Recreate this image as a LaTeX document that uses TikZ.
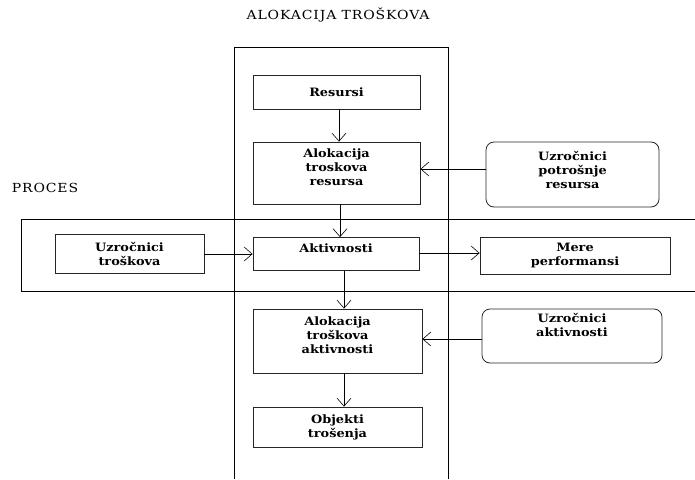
\documentclass[tikz,border=0pt]{standalone}
\usepackage{fontspec}
\setmainfont{DejaVu Serif}[FakeStretch=1.12]
\newfontfamily\spacedfont{DejaVu Serif}[FakeStretch=1.12,LetterSpace=7]
\usetikzlibrary{arrows.meta}
\begin{document}
\begin{tikzpicture}[x=1pt,y=-1pt,
  every node/.style={inner sep=0pt},
  box/.style={draw=black!85, line width=0.8pt, align=center, font=\fontsize{11.5}{14}\selectfont\bfseries},
  rbox/.style={box, rounded corners=8pt},
  frame/.style={draw=black, line width=0.8pt},
  conn/.style={draw=black, line width=0.7pt, -{Straight Barb[length=8pt,width=14pt,line width=0.6pt]}},
  lbl/.style={font=\spacedfont\fontsize{12.5}{14}\selectfont}
  ]
\useasboundingbox (0,0) rectangle (695,479);
% frames
\draw[frame] (234,479) -- (234,47) -- (448,47) -- (448,479);
\draw[frame] (695,219) -- (21,219) -- (21,291) -- (695,291);
\node[lbl] (title) at (338,15) {ALOKACIJA TROŠKOVA};
\node[lbl] (proces) at (45,188) {PROCES};
% boxes
\node[box, minimum width=167, minimum height=34] (resursi) at (336.5,92) {Resursi};
\node[box, minimum width=167, minimum height=62, text depth=11pt] (alokres) at (336.5,173) {Alokacija\\troskova\\resursa};
\node[rbox, minimum width=173, minimum height=65, text depth=10pt] (uzrpot) at (572.5,174.5) {Uzročnici\\potrošnje\\resursa};
\node[box, minimum width=166, minimum height=33, text depth=11pt] (aktiv) at (336,254) {Aktivnosti};
\node[box, minimum width=149, minimum height=39] (uzrtro) at (129.5,253.5) {Uzročnici\\troškova};
\node[box, minimum width=190, minimum height=37] (mere) at (575,255.5) {Mere\\performansi};
\node[box, minimum width=169, minimum height=64, text depth=11pt] (alokakt) at (337.5,341) {Alokacija\\troškova\\aktivnosti};
\node[rbox, minimum width=180, minimum height=54, text depth=22pt] (uzrakt) at (572,336) {Uzročnici\\aktivnosti};
\node[box, minimum width=169, minimum height=40] (objekti) at (337.5,427) {Objekti\\trošenja};
% connectors
\path[conn] ([xshift=2.5]resursi.south) -- ([xshift=2.5]alokres.north);
\path[conn] ([xshift=3.5]alokres.south) -- ([xshift=4]aktiv.north);
\path[conn] ([xshift=8]aktiv.south) -- ([xshift=6.5]alokakt.north);
\path[conn] ([xshift=6.5]alokakt.south) -- ([xshift=6.5]objekti.north);
\coordinate (a1) at ([yshift=5.5]uzrpot.west);
\path[conn] (a1) -- (a1 -| alokres.east);
\coordinate (a2) at ([yshift=-0.5]uzrtro.east);
\path[conn] (a2) -- (a2 -| aktiv.west);
\coordinate (a3) at ([yshift=1]aktiv.east);
\path[conn] (a3) -- (a3 -| mere.west);
\coordinate (a4) at ([yshift=-3]uzrakt.west);
\path[conn] (a4) -- (a4 -| alokakt.east);
\end{tikzpicture}
\end{document}
